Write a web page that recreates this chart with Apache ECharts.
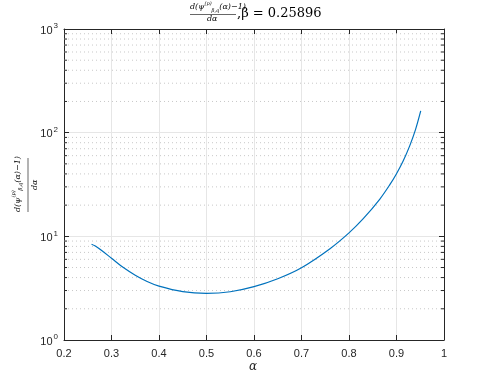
<!DOCTYPE html>
<html>
<head>
<meta charset="utf-8">
<script src="https://cdn.jsdelivr.net/npm/echarts@6/dist/echarts.min.js"></script>
<style>
  html, body { margin: 0; padding: 0; background: #fff; }
  #chart { width: 491px; height: 382px; }
</style>
</head>
<body>
<div id="chart"></div>
<script>
  // curve
  var alpha = [0.258, 0.265, 0.28, 0.3, 0.325, 0.35, 0.375, 0.4, 0.45, 0.5, 0.55, 0.6, 0.65, 0.7, 0.76, 0.8, 0.83, 0.865, 0.886, 0.9, 0.914, 0.928, 0.94, 0.951];
  var dpsi = [8.4, 8.1, 7.26, 6.15, 5.0, 4.22, 3.67, 3.31, 2.93, 2.82, 2.92, 3.27, 3.9, 4.98, 7.6, 10.8, 14.8, 22.9, 31.5, 40.2, 53.3, 75, 107, 162];
  var minorY = [2, 3, 4, 5, 6, 7, 8, 9, 20, 30, 40, 50, 60, 70, 80, 90, 200, 300, 400, 500, 600, 700, 800, 900];

  var axisCol = '#262626';
  var sans = 'Liberation Sans';
  var serif = 'DejaVu Serif';

  var chart = echarts.init(document.getElementById('chart'));

  var pts = alpha.map(function (a, i) { return [a, dpsi[i]]; });

  // numerator of d(psi-1)/dalpha, used for title and y label
  var numRich = {
    t: { fontFamily: serif, fontStyle: 'italic', fontSize: 8, fill: '#000', verticalAlign: 'middle', lineHeight: 12 },
    p: { fontFamily: serif, fontStyle: 'italic', fontSize: 5, fill: '#000', verticalAlign: 'top', lineHeight: 12, padding: [0, 0, 4, 0] },
    q: { fontFamily: serif, fontStyle: 'italic', fontSize: 5, fill: '#000', verticalAlign: 'bottom', lineHeight: 12, padding: [4, 0, 0, 0] }
  };
  var numText = '{t|d(ψ}{p|(p)}{q|β,q}{t|(α)−1)}';

  chart.setOption({
    animation: false,
    grid: { left: 64, right: 47, top: 29, bottom: 42, show: false },
    xAxis: [
      {
        type: 'value', min: 0.2, max: 1, interval: 0.1,
        axisLine: { show: true, lineStyle: { color: axisCol, width: 1 } },
        axisTick: { show: true, inside: true, length: 5, lineStyle: { color: axisCol } },
        axisLabel: {
          color: axisCol, fontFamily: sans, fontSize: 11, margin: 8,
          formatter: function (v) { return String(+v.toFixed(1)); }
        },
        splitLine: { show: true, lineStyle: { color: '#e6e6e6', width: 1 } }
      },
      {
        type: 'value', min: 0.2, max: 1, interval: 0.1, position: 'top',
        axisLine: { show: true, lineStyle: { color: axisCol, width: 1 } },
        axisTick: { show: true, inside: true, length: 5, lineStyle: { color: axisCol } },
        axisLabel: { show: false },
        splitLine: { show: false }
      }
    ],
    yAxis: [
      {
        type: 'log', logBase: 10, min: 1, max: 1000,
        axisLine: { show: true, lineStyle: { color: axisCol, width: 1 } },
        axisTick: { show: true, inside: true, length: 5, lineStyle: { color: axisCol } },
        axisLabel: {
          color: axisCol, margin: 6,
          formatter: function (v) {
            var e = Math.round(Math.log10(v));
            return '{b|10}{s|' + e + '}';
          },
          rich: {
            b: { fontFamily: sans, fontSize: 11, color: axisCol, verticalAlign: 'bottom', lineHeight: 12 },
            s: { fontFamily: sans, fontSize: 8, color: axisCol, verticalAlign: 'top', padding: [0, 0, 6, 1] }
          }
        },
        splitLine: { show: true, lineStyle: { color: '#e6e6e6', width: 1 } }
      },
      {
        type: 'log', logBase: 10, min: 1, max: 1000, position: 'right',
        axisLine: { show: true, lineStyle: { color: axisCol, width: 1 } },
        axisTick: { show: true, inside: true, length: 5, lineStyle: { color: axisCol } },
        axisLabel: { show: false },
        splitLine: { show: false }
      }
    ],
    series: [
      {
        // minor log grid lines and minor ticks
        type: 'custom',
        xAxisIndex: 0, yAxisIndex: 0,
        silent: true,
        z: 1,
        data: minorY.map(function (v) { return [v]; }),
        encode: { y: 0 },
        renderItem: function (params, api) {
          var v = api.value(0);
          var p0 = api.coord([0.2, v]);
          var p1 = api.coord([1, v]);
          return {
            type: 'group',
            children: [
              { type: 'line', shape: { x1: p0[0], y1: p0[1], x2: p1[0], y2: p1[1] },
                style: { stroke: '#c8c8c8', lineWidth: 1, lineDash: [1, 3] } },
              { type: 'line', shape: { x1: p0[0], y1: p0[1], x2: p0[0] + 3, y2: p0[1] },
                style: { stroke: axisCol, lineWidth: 1 } },
              { type: 'line', shape: { x1: p1[0] - 3, y1: p1[1], x2: p1[0], y2: p1[1] },
                style: { stroke: axisCol, lineWidth: 1 } }
            ]
          };
        }
      },
      {
        type: 'line',
        xAxisIndex: 0, yAxisIndex: 0,
        data: pts,
        smooth: 0.35,
        showSymbol: false,
        z: 3,
        lineStyle: { color: '#0072BD', width: 1.2 }
      }
    ],
    graphic: [
      // title: fraction + beta value
      {
        type: 'text', left: 190, top: 1,
        style: { text: numText, rich: numRich }
      },
      { type: 'line', shape: { x1: 190, y1: 14.5, x2: 236, y2: 14.5 }, style: { stroke: '#000', lineWidth: 0.6 } },
      {
        type: 'text', left: 207, top: 15,
        style: { text: 'dα', fontFamily: serif, fontStyle: 'italic', fontSize: 8, fill: '#000' }
      },
      {
        type: 'text', left: 237, top: 7,
        style: { text: ',β = 0.25896', fontFamily: serif, fontSize: 13, fill: '#000' }
      },
      // x label
      {
        type: 'text', left: 249, top: 361,
        style: { text: 'α', fontFamily: serif, fontStyle: 'italic', fontSize: 12, fill: axisCol }
      },
      // y label (rotated fraction)
      {
        type: 'group', x: 31.5, y: 185, rotation: Math.PI / 2,
        children: [
          {
            type: 'text', x: -27, y: -20,
            style: { text: numText, rich: numRich }
          },
          { type: 'line', shape: { x1: -27, y1: -3.5, x2: 27, y2: -3.5 }, style: { stroke: '#000', lineWidth: 0.6 } },
          {
            type: 'text', x: -5, y: -1,
            style: { text: 'dα', fontFamily: serif, fontStyle: 'italic', fontSize: 8, fill: '#000' }
          }
        ]
      }
    ]
  });
</script>
</body>
</html>
